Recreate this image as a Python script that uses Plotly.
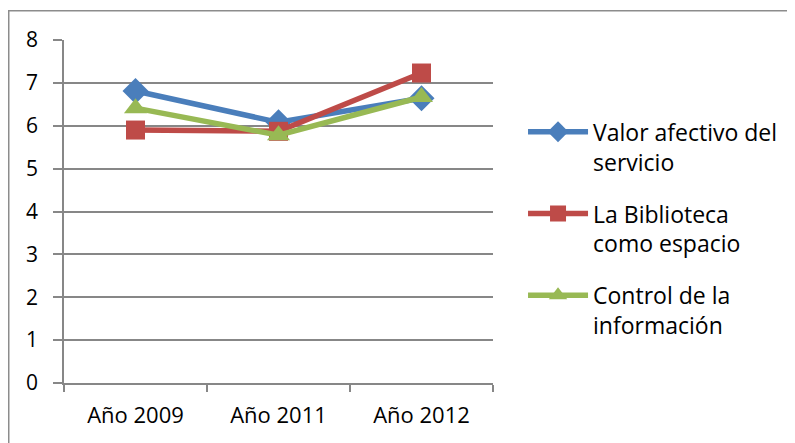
import plotly.graph_objects as go

categories = ["Año 2009", "Año 2011", "Año 2012"]
series_names = ["Valor afectivo del<br>servicio", "La Biblioteca<br>como espacio", "Control de la<br>información"]
valor_afectivo = [6.81, 6.08, 6.64]
biblioteca_espacio = [5.90, 5.87, 7.23]
control_info = [6.41, 5.78, 6.67]
y_ticks = [0, 1, 2, 3, 4, 5, 6, 7, 8]

colors = ["#4A7EBB", "#BE4B48", "#98B954"]
symbols = ["diamond", "square", "triangle-up"]
marker_sizes = [20, 19, 20]
values = [valor_afectivo, biblioteca_espacio, control_info]

FONT = "Open Sans"
fig = go.Figure()
for i, (name, vals, col, sym, ms) in enumerate(zip(series_names, values, colors, symbols, marker_sizes)):
    fig.add_trace(go.Scatter(
        x=categories, y=vals, name=name, mode="lines+markers",
        legendgroup=f"g{i}",
        line=dict(color=col, width=5.5),
        marker=dict(symbol=sym, size=ms, color=col),
    ))

grid = "#878787"
fig.update_layout(
    width=795, height=443,
    margin=dict(l=56, r=310, t=32, b=68),
    paper_bgcolor="white", plot_bgcolor="white",
    font=dict(family=FONT, size=22, color="black"),
    showlegend=True,
    legend=dict(x=1.07, y=0.795, xanchor="left", yanchor="top",
                font=dict(family=FONT, size=23, color="black"),
                valign="top", itemwidth=60, tracegroupgap=19,
                bgcolor="rgba(0,0,0,0)"),
    xaxis=dict(type="category", range=[-0.5, 2.5], showgrid=False,
               showline=True, linecolor=grid, linewidth=1.5,
               ticks="outside", tickson="boundaries", ticklen=7,
               tickcolor=grid, tickwidth=1.5, zeroline=False,
               ticklabelstandoff=12,
               tickfont=dict(family=FONT, size=22, color="black")),
    yaxis=dict(range=[0, 8], tickvals=y_ticks, showgrid=True, gridcolor=grid,
               gridwidth=1.5, showline=True, linecolor=grid, linewidth=1.5,
               ticks="outside", ticklen=9, tickcolor=grid, tickwidth=1.5,
               zeroline=False, ticklabelstandoff=11,
               tickfont=dict(family=FONT, size=21, color="black")),
    shapes=[dict(type="rect", xref="paper", yref="paper",
                 x0=-0.1288, x1=1.75, y0=-0.25, y1=1.0853,
                 line=dict(color="#8C8C8C", width=1.5), layer="below")],
)
fig.write_html("out.html")
